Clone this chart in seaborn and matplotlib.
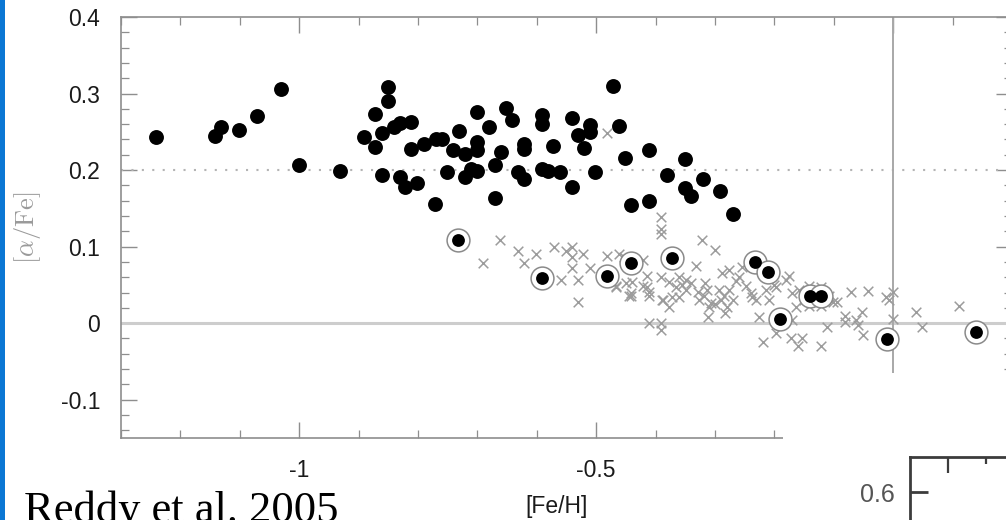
import matplotlib
matplotlib.use("Agg")
import matplotlib.pyplot as plt
import seaborn as sns
import pandas as pd
from matplotlib.patches import Rectangle
from matplotlib.ticker import MultipleLocator, FixedLocator

# ---------------- data ----------------
# thick-disk stars (filled circles)
thick_feh = [-1.241, -1.141, -1.131, -1.101, -1.071, -1.031, -1.001, -0.931, -0.891, -0.872,
             -0.872, -0.861, -0.851, -0.851, -0.861, -0.841, -0.830, -0.811, -0.811, -0.790,
             -0.830, -0.822, -0.801, -0.770, -0.759, -0.731, -0.701, -0.681, -0.652, -0.641,
             -0.741, -0.721, -0.701, -0.701, -0.661, -0.671, -0.751, -0.721, -0.711, -0.701,
             -0.771, -0.671, -0.631, -0.621, -0.621, -0.621, -0.591, -0.591, -0.572, -0.591,
             -0.581, -0.561, -0.541, -0.541, -0.531, -0.511, -0.511, -0.520, -0.502, -0.471,
             -0.461, -0.451, -0.441, -0.411, -0.411, -0.381, -0.351, -0.351, -0.341, -0.321,
             -0.291, -0.270]
thick_afe = [0.243, 0.245, 0.256, 0.253, 0.271, 0.306, 0.206, 0.199, 0.243, 0.230,
             0.273, 0.248, 0.308, 0.290, 0.194, 0.256, 0.261, 0.263, 0.228, 0.234,
             0.191, 0.178, 0.183, 0.241, 0.241, 0.251, 0.276, 0.256, 0.281, 0.266,
             0.226, 0.221, 0.237, 0.226, 0.224, 0.206, 0.197, 0.191, 0.202, 0.199,
             0.156, 0.164, 0.197, 0.189, 0.234, 0.228, 0.272, 0.260, 0.231, 0.201,
             0.199, 0.197, 0.178, 0.268, 0.246, 0.259, 0.250, 0.229, 0.197, 0.310,
             0.258, 0.216, 0.154, 0.226, 0.159, 0.194, 0.214, 0.176, 0.166, 0.189,
             0.173, 0.142]

# thick-disk stars with thin-disk abundances (ringed circles)
ring_feh = [-0.732, -0.592, -0.481, -0.442, -0.372, -0.232, -0.211, -0.191, -0.140, -0.122,
            -0.011, 0.139]
ring_afe = [0.109, 0.059, 0.062, 0.078, 0.085, 0.080, 0.067, 0.005, 0.035, 0.035,
            -0.021, -0.011]

# thin-disk stars (crosses)
thin_feh = [-0.662, -0.691, -0.631, -0.621, -0.602, -0.571, -0.551, -0.541, -0.541, -0.541,
            -0.522, -0.510, -0.559, -0.530, -0.530, -0.481, -0.461, -0.467, -0.450, -0.442,
            -0.481, -0.391, -0.391, -0.442, -0.411, -0.391, -0.391, -0.467, -0.422, -0.411,
            -0.389, -0.391, -0.322, -0.300, -0.453, -0.439, -0.422, -0.414, -0.444, -0.411,
            -0.391, -0.377, -0.360, -0.349, -0.349, -0.360, -0.388, -0.377, -0.372, -0.332,
            -0.329, -0.327, -0.313, -0.310, -0.312, -0.293, -0.290, -0.276, -0.279, -0.288,
            -0.276, -0.259, -0.248, -0.237, -0.231, -0.254, -0.214, -0.197, -0.181, -0.170,
            -0.209, -0.220, -0.197, -0.172, -0.226, -0.175, -0.158, -0.164, -0.170, -0.141,
            -0.122, -0.108, -0.094, -0.102, -0.153, -0.161, -0.122, -0.111, -0.141, -0.122,
            -0.071, -0.042, -0.081, -0.081, -0.063, -0.052, -0.060, -0.051, -0.012, -0.007,
            -0.001, -0.001, 0.038, 0.048, 0.110, -0.316, -0.318, -0.306, -0.285, -0.270,
            -0.283, -0.355, -0.365, -0.300, -0.340, -0.265, -0.240, -0.200, -0.150, -0.415]
thin_afe = [0.109, 0.079, 0.094, 0.079, 0.091, 0.099, 0.094, 0.099, 0.086, 0.072,
            0.091, 0.072, 0.056, 0.056, 0.028, 0.248, 0.091, 0.047, 0.052, 0.036,
            0.088, 0.139, 0.123, 0.039, 0.000, 0.000, -0.009, 0.049, 0.049, 0.041,
            0.030, 0.117, 0.109, 0.095, 0.086, 0.054, 0.082, 0.047, 0.036, 0.036,
            0.060, 0.054, 0.060, 0.056, 0.043, 0.034, 0.030, 0.021, 0.034, 0.075,
            0.041, 0.030, 0.043, 0.021, 0.008, 0.043, 0.030, 0.043, 0.021, 0.065,
            0.069, 0.060, 0.049, 0.034, 0.030, 0.073, 0.043, 0.047, 0.056, 0.039,
            0.030, -0.024, -0.013, -0.020, 0.008, 0.062, 0.043, 0.021, 0.004, 0.049,
            0.047, 0.036, 0.028, 0.028, -0.020, -0.030, -0.030, -0.005, 0.023, 0.023,
            0.041, 0.042, 0.010, 0.002, 0.004, 0.015, -0.003, -0.016, 0.034, 0.030,
            0.041, 0.006, 0.015, -0.005, 0.022, 0.052, 0.036, 0.027, 0.036, 0.030,
            0.013, 0.050, 0.047, 0.025, 0.052, 0.055, 0.040, 0.050, 0.030, 0.062]

x_ticks = [-1.0, -0.5, 0.0]
x_tick_labels = ["-1", "-0.5", "0"]
y_ticks = [-0.1, 0.0, 0.1, 0.2, 0.3, 0.4]
y_tick_labels = ["-0.1", "0", "0.1", "0.2", "0.3", "0.4"]

inset_y_ticks = [0.6]
inset_y_tick_labels = ["0.6"]

x_label = "[Fe/H]"
y_label = r"$[\alpha/\mathrm{Fe}]$"
caption = "Reddy et al. 2005"

# ---------------- style ----------------
sns.set_style("white")
plt.rcParams["font.family"] = ["Liberation Sans", "DejaVu Sans"]
plt.rcParams["mathtext.fontset"] = "cm"

W, H = 1006, 520
fig = plt.figure(figsize=(W / 100, H / 100), dpi=100)
fig.patch.set_facecolor("white")

# main axes (right edge slightly beyond the picture, like the cropped slide)
ax = fig.add_axes([121 / W, 82 / H, 891 / W, 421 / H])
ax.set_facecolor("white")

thin_df = pd.DataFrame({"feh": thin_feh, "afe": thin_afe})
ring_df = pd.DataFrame({"feh": ring_feh, "afe": ring_afe})
thick_df = pd.DataFrame({"feh": thick_feh, "afe": thick_afe})

ax.axhline(0.0, color="#cdcdcd", lw=2.2, zorder=1)
ax.axhline(0.2, color="#b4b4b4", lw=1.5, ls=(0, (1, 4)), zorder=1)
ax.axvline(0.0, color="#a8a8a8", lw=1.4, zorder=1)

sns.scatterplot(data=thin_df, x="feh", y="afe", marker="x", s=48, color="#9c9c9c",
                linewidth=1.1, ax=ax, zorder=2, legend=False)
sns.scatterplot(data=ring_df, x="feh", y="afe", marker="o", s=270, facecolor="white",
                edgecolor="#8a8a8a", linewidth=1.1, ax=ax, zorder=3, legend=False)
sns.scatterplot(data=ring_df, x="feh", y="afe", marker="o", s=85, color="black",
                edgecolor="black", linewidth=0, ax=ax, zorder=4, legend=False)
sns.scatterplot(data=thick_df, x="feh", y="afe", marker="o", s=115, color="black",
                edgecolor="black", linewidth=0, ax=ax, zorder=4, legend=False)

ax.set_xlim(-1.3, 0.2)
ax.set_ylim(-0.15, 0.4)
ax.xaxis.set_major_locator(FixedLocator(x_ticks))
ax.set_xticklabels(x_tick_labels)
ax.yaxis.set_major_locator(FixedLocator(y_ticks))
ax.set_yticklabels(y_tick_labels)
ax.xaxis.set_minor_locator(MultipleLocator(0.1))
ax.yaxis.set_minor_locator(MultipleLocator(0.02))

for sp in ax.spines.values():
    sp.set_visible(True)
    sp.set_color("#8e8e8e")
    sp.set_linewidth(1.2)

ax.tick_params(which="both", direction="in", top=True, right=True, bottom=True, left=True,
               color="#8e8e8e", labelcolor="#1a1a1a", labelsize=16.5, pad=15)
ax.tick_params(which="major", length=11.5, width=1.0)
ax.tick_params(which="minor", length=5.5, width=0.9)

ax.set_xlabel(x_label, fontsize=16.5, color="#1a1a1a")
ax.xaxis.set_label_coords(0.489, -0.135)
ax.set_ylabel(y_label, fontsize=19, color="#9a9a9a")
ax.yaxis.set_label_coords(-0.1044, 0.5)
ax.yaxis.label.set_va("center")
ax.yaxis.label.set_ha("center")
ax.yaxis.label.set_rotation_mode("anchor")

# white panel of the overlapping second figure
fig.add_artist(Rectangle((783 / W, 0), (W - 783) / W, (H - 373) / H,
                         transform=fig.transFigure, facecolor="white",
                         edgecolor="none", zorder=5))

# corner of the second (overlapping) chart
ax2 = fig.add_axes([910 / W, (H - 457 - 105) / H, 121 / W, 105 / H], zorder=6)
ax2.patch.set_alpha(0)
ax2.set_xlim(-0.5, 1.1)
ax2.set_ylim(0.4, 0.7)
ax2.xaxis.set_major_locator(FixedLocator([0.0, 1.0]))
ax2.xaxis.set_minor_locator(FixedLocator([0.5]))
ax2.yaxis.set_major_locator(FixedLocator(inset_y_ticks))
ax2.set_yticklabels(inset_y_tick_labels)
for name, sp in ax2.spines.items():
    sp.set_visible(name in ("left", "top"))
    sp.set_color("#3c3c3c")
    sp.set_linewidth(2.0)
ax2.tick_params(axis="x", which="both", direction="in", top=True, bottom=False,
                labeltop=False, labelbottom=False, color="#3c3c3c", width=1.6)
ax2.tick_params(axis="x", which="major", length=11.5)
ax2.tick_params(axis="x", which="minor", length=5)
ax2.tick_params(axis="y", which="major", direction="in", left=True, right=False,
                length=13, width=2, color="#3c3c3c", labelsize=18,
                labelcolor="#555555", pad=11)

# slide decorations
fig.add_artist(Rectangle((0, 0), 4.5 / W, 1, transform=fig.transFigure,
                         facecolor="#0b77d4", edgecolor="none", zorder=10))
fig.text(24 / W, -2 / H, caption, fontsize=32, family=["Liberation Serif", "DejaVu Serif"],
         color="black", ha="left", va="baseline", zorder=11)

fig.savefig("out.png", dpi=100)
